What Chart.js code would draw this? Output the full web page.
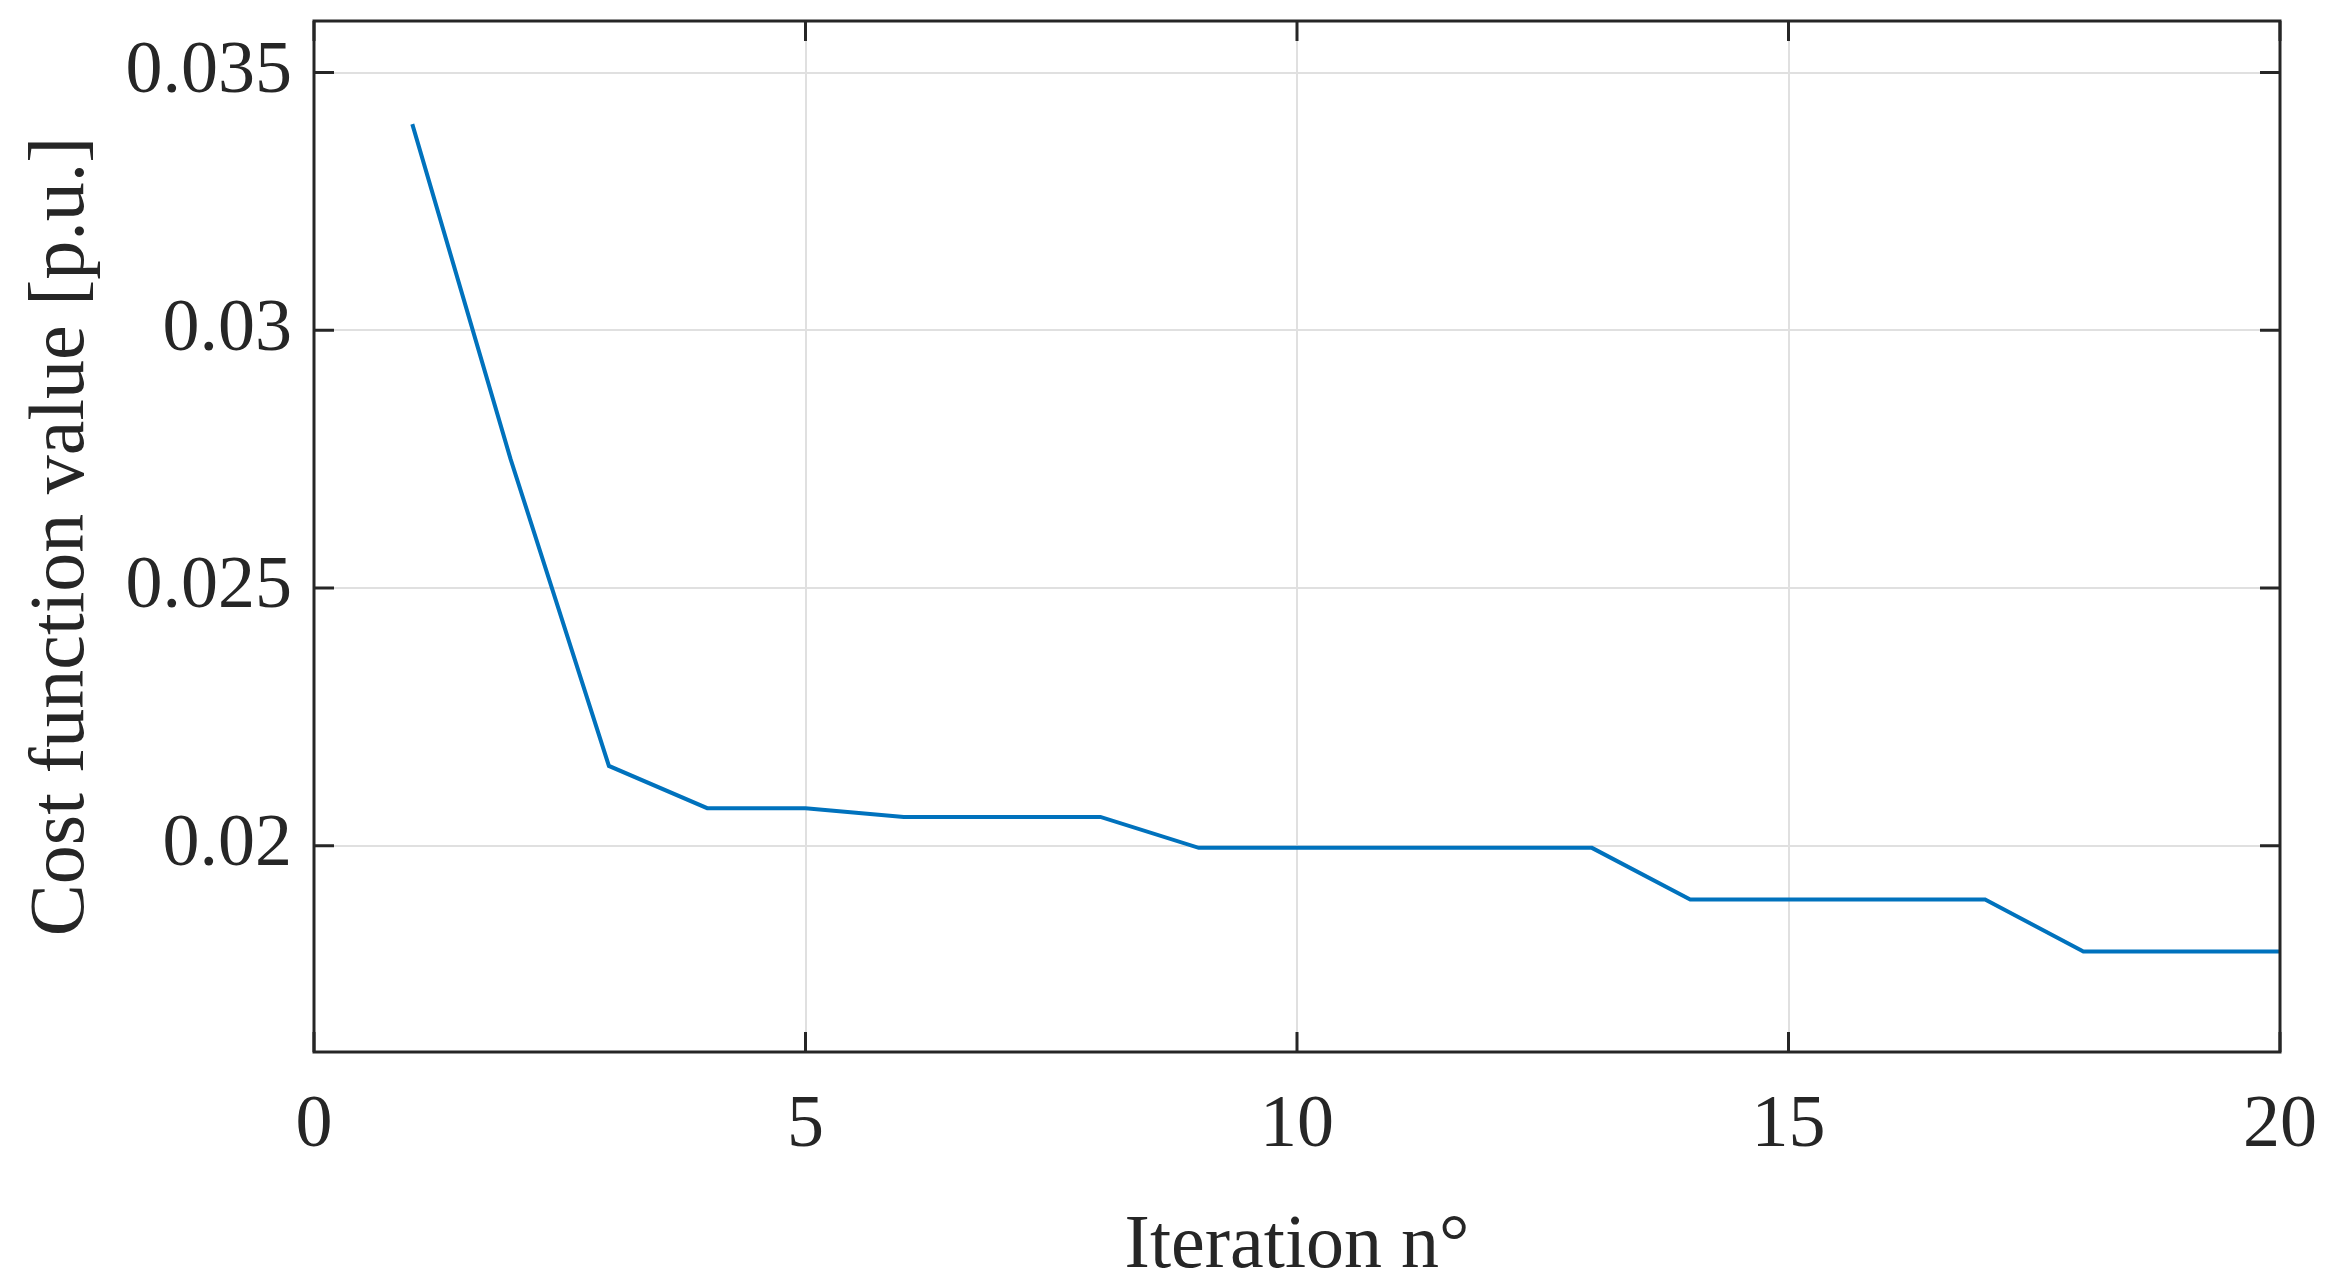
<!DOCTYPE html>
<html>
<head>
<meta charset="utf-8">
<title>Cost function value</title>
<script src="https://cdn.jsdelivr.net/npm/chart.js@4.4.1/dist/chart.umd.min.js"></script>
<style>
    html, body { margin: 0; padding: 0; background: #ffffff; }
    canvas { display: block; }
</style>
</head>
<body>
<canvas id="costChart" width="2328" height="1285"></canvas>
<script>
// data
const iterations = [1, 2, 3, 4, 5, 6, 7, 8, 9, 10, 11, 12, 13, 14, 15, 16, 17, 18, 19, 20];
const costValues = [0.0340, 0.0275, 0.02155, 0.02073, 0.02073, 0.02056, 0.02056, 0.02056, 0.01996, 0.01996,
                    0.01996, 0.01996, 0.01996, 0.01896, 0.01896, 0.01896, 0.01896, 0.01795, 0.01795, 0.01795];
const xTicks = [0, 5, 10, 15, 20];
const yTicks = [0.02, 0.025, 0.03, 0.035];
const yTickLabels = ['0.02', '0.025', '0.03', '0.035'];

const axisColor = '#262626';
const serif = '"Liberation Serif", "DejaVu Serif", serif';

// MATLAB style box with inward ticks on all four sides
const boxPlugin = {
    id: 'matlabBox',
    afterDatasetsDraw(chart) {
        const { ctx, chartArea: a, scales: { x, y } } = chart;
        const len = 20;
        ctx.save();
        ctx.strokeStyle = axisColor;
        ctx.lineWidth = 3;
        ctx.beginPath();
        xTicks.forEach(v => {
            const px = x.getPixelForValue(v);
            ctx.moveTo(px, a.bottom); ctx.lineTo(px, a.bottom - len);
            ctx.moveTo(px, a.top); ctx.lineTo(px, a.top + len);
        });
        yTicks.forEach(v => {
            const py = y.getPixelForValue(v);
            ctx.moveTo(a.left, py); ctx.lineTo(a.left + len, py);
            ctx.moveTo(a.right, py); ctx.lineTo(a.right - len, py);
        });
        ctx.stroke();
        ctx.strokeRect(a.left, a.top, a.right - a.left, a.bottom - a.top);
        ctx.restore();
    }
};

const ctx = document.getElementById('costChart').getContext('2d');
const costChart = new Chart(ctx, {
    type: 'line',
    data: {
        datasets: [{
            label: 'Cost function value',
            data: iterations.map((it, i) => ({ x: it, y: costValues[i] })),
            borderColor: '#0072BD',
            borderWidth: 4,
            pointRadius: 0,
            tension: 0,
            fill: false
        }]
    },
    options: {
        responsive: false,
        devicePixelRatio: 1,
        animation: false,
        layout: { padding: { left: 0, top: 21, right: 48, bottom: 0 } },
        plugins: {
            legend: { display: false },
            tooltip: { enabled: false }
        },
        scales: {
            x: {
                type: 'linear',
                min: 0,
                max: 20,
                afterBuildTicks: s => { s.ticks = xTicks.map(v => ({ value: v })); },
                afterFit: s => { s.height = 233; s.paddingLeft = 0; s.paddingRight = 0; },
                grid: { color: '#e0e0e0', lineWidth: 2, drawTicks: false },
                border: { display: false },
                ticks: {
                    padding: 30,
                    color: axisColor,
                    font: { family: serif, size: 74 },
                    maxRotation: 0
                },
                title: {
                    display: true,
                    text: 'Iteration n°',
                    color: axisColor,
                    font: { family: serif, size: 76, lineHeight: 1.0 },
                    padding: { top: 0, bottom: 0 }
                }
            },
            y: {
                min: 0.016,
                max: 0.036,
                afterBuildTicks: s => { s.ticks = yTicks.map(v => ({ value: v })); },
                afterFit: s => { s.width = 314; s.paddingTop = 0; s.paddingBottom = 0; },
                grid: { color: '#e0e0e0', lineWidth: 2, drawTicks: false },
                border: { display: false },
                ticks: {
                    padding: 22,
                    color: axisColor,
                    font: { family: serif, size: 74 },
                    callback: v => yTickLabels[yTicks.indexOf(v)] ?? ''
                },
                title: {
                    display: true,
                    text: 'Cost function value [p.u.]',
                    color: axisColor,
                    font: { family: serif, size: 78, lineHeight: 1.0 },
                    padding: { top: 24, bottom: 0 }
                }
            }
        }
    },
    plugins: [boxPlugin]
});
</script>
</body>
</html>
